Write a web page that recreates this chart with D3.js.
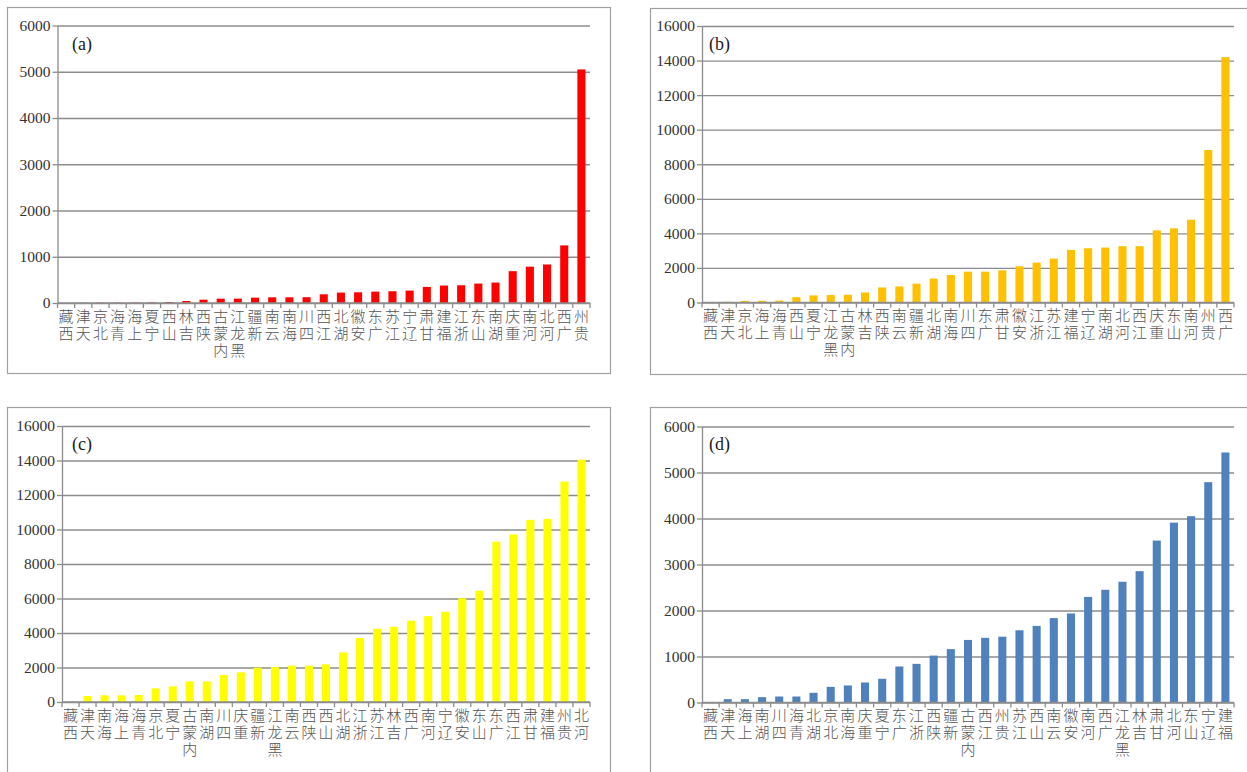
<!DOCTYPE html>
<html>
<head>
<meta charset="utf-8">
<script src="https://cdn.jsdelivr.net/npm/d3@7"></script>
<style>
  body { margin: 0; background: #fff; }
  svg { display: block; }
</style>
</head>
<body>
<svg id="chart" width="1247" height="772"></svg>
<script>
// (a) provinces and values
const categoriesA = ["西藏","天津","北京","青海","上海","宁夏","山西","吉林","陕西","内蒙古","黑龙江","新疆","云南","海南","四川","江西","湖北","安徽","广东","江苏","辽宁","甘肃","福建","浙江","山东","湖南","重庆","河南","河北","广西","贵州"];
const valuesA = [0,3,8,8,8,10,22,43,72,94,94,116,123,123,125,188,225,232,246,254,268,348,377,384,420,442,688,785,833,1246,5050];

// (b)
const categoriesB = ["西藏","天津","北京","上海","青海","山西","宁夏","黑龙江","内蒙古","吉林","陕西","云南","新疆","湖北","海南","四川","广东","甘肃","安徽","浙江","江苏","福建","辽宁","湖南","河北","江西","重庆","山东","河南","贵州","广西"];
const valuesB = [0,40,95,100,110,310,410,430,445,580,870,930,1090,1380,1590,1785,1785,1860,2095,2310,2540,3045,3140,3180,3260,3260,4170,4290,4790,8825,14200];

// (c)
const categoriesC = ["西藏","天津","海南","上海","青海","北京","宁夏","内蒙古","湖南","四川","重庆","新疆","黑龙江","云南","陕西","山西","湖北","浙江","江苏","吉林","广西","河南","辽宁","安徽","山东","广东","江西","甘肃","福建","贵州","河北"];
const valuesC = [0,350,385,385,405,790,905,1195,1195,1565,1720,1990,2025,2105,2105,2180,2875,3705,4245,4360,4710,4980,5230,6020,6450,9300,9710,10560,10620,12780,14050];

// (d)
const categoriesD = ["西藏","天津","上海","湖南","四川","青海","湖北","北京","海南","重庆","宁夏","广东","浙江","陕西","新疆","内蒙古","江西","贵州","江苏","山西","云南","安徽","河南","广西","黑龙江","吉林","甘肃","河北","山东","辽宁","福建"];
const valuesD = [0,72,72,116,130,130,210,340,370,435,515,783,840,1020,1160,1360,1405,1430,1570,1665,1835,1935,2295,2450,2625,2855,3520,3910,4050,4790,5435];

// y-axis tick values
const ticksA = [0,1000,2000,3000,4000,5000,6000];
const ticksB = [0,2000,4000,6000,8000,10000,12000,14000,16000];
const ticksC = [0,2000,4000,6000,8000,10000,12000,14000,16000];
const ticksD = [0,1000,2000,3000,4000,5000,6000];

const panelLabels = ["(a)","(b)","(c)","(d)"];

// layout of the four panels
const panels = [
  { label: panelLabels[0], cats: categoriesA, vals: valuesA, ticks: ticksA, color: "#ff0000",
    frame: [7.5, 7.5, 603, 366], plot: { left: 57.5, right: 590, top: 25.5, bottom: 303 }, tag: [72, 50] },
  { label: panelLabels[1], cats: categoriesB, vals: valuesB, ticks: ticksB, color: "#ffc000",
    frame: [650.5, 8.5, 620, 366], plot: { left: 702, right: 1234, top: 26, bottom: 302.5 }, tag: [709, 50] },
  { label: panelLabels[2], cats: categoriesC, vals: valuesC, ticks: ticksC, color: "#ffff00",
    frame: [7.5, 407.5, 603, 400], plot: { left: 62, right: 590, top: 426, bottom: 702 }, tag: [72, 450] },
  { label: panelLabels[3], cats: categoriesD, vals: valuesD, ticks: ticksD, color: "#4f81bd",
    frame: [650.5, 407.5, 620, 400], plot: { left: 702, right: 1234, top: 426.5, bottom: 702.5 }, tag: [709, 450] }
];

const svg = d3.select("#chart");
const gridColor = "#8c8c8c";
const serif = "'Liberation Serif', 'Times New Roman', serif";
const cjk = "'Noto Sans CJK SC', sans-serif";

panels.forEach(p => {
  const g = svg.append("g");
  const { left, right, top, bottom } = p.plot;

  // outer frame
  g.append("rect")
    .attr("x", p.frame[0]).attr("y", p.frame[1])
    .attr("width", p.frame[2]).attr("height", p.frame[3])
    .attr("fill", "none").attr("stroke", "#a0a0a0").attr("stroke-width", 1.2);

  const x = d3.scaleBand()
    .domain(p.cats)
    .range([left, right])
    .paddingInner(0.53)
    .paddingOuter(0.265);

  const y = d3.scaleLinear()
    .domain([0, d3.max(p.ticks)])
    .range([bottom, top]);

  // horizontal gridlines
  const grid = g.append("g")
    .attr("transform", `translate(${left},0)`)
    .call(d3.axisLeft(y).tickValues(p.ticks).tickSize(-(right - left)).tickFormat(""));
  grid.select(".domain").remove();
  grid.selectAll("line").attr("stroke", gridColor).attr("stroke-width", 1.3);

  // y axis with outward ticks and labels
  const yAxis = g.append("g")
    .attr("transform", `translate(${left},0)`)
    .call(d3.axisLeft(y).tickValues(p.ticks).tickSize(5).tickSizeOuter(0).tickPadding(2).tickFormat(d3.format("d")));
  yAxis.attr("font-family", null).attr("font-size", null);
  yAxis.select(".domain").attr("stroke", gridColor).attr("stroke-width", 1.3);
  yAxis.selectAll("line").attr("stroke", gridColor).attr("stroke-width", 1.3);
  yAxis.selectAll("text")
    .style("font-family", serif)
    .style("font-size", "15.5px")
    .attr("fill", "#333");

  // category boundary ticks below the x axis
  const step = x.step();
  g.append("g").selectAll("line")
    .data(d3.range(p.cats.length + 1))
    .join("line")
    .attr("x1", i => x.range()[0] + i * step)
    .attr("x2", i => x.range()[0] + i * step)
    .attr("y1", bottom)
    .attr("y2", bottom + 5)
    .attr("stroke", gridColor).attr("stroke-width", 1.3);

  // bars
  g.append("g").selectAll("rect")
    .data(p.cats.map((c, i) => ({ c, v: p.vals[i] })))
    .join("rect")
    .attr("x", d => x(d.c))
    .attr("width", x.bandwidth())
    .attr("y", d => y(d.v))
    .attr("height", d => y(0) - y(d.v))
    .attr("fill", p.color);

  // redraw the baseline on top of the bars
  g.append("line")
    .attr("x1", left).attr("x2", right)
    .attr("y1", bottom).attr("y2", bottom)
    .attr("stroke", gridColor).attr("stroke-width", 1.3);

  // category labels: upright characters stacked, reading upward from the bottom
  // (one text run per name, each glyph placed through the x/y position lists)
  const pitch = 17;
  g.append("g").selectAll("text")
    .data(p.cats)
    .join("text")
    .attr("text-anchor", "middle")
    .attr("dominant-baseline", "central")
    .style("font-family", cjk)
    .style("font-size", "15px")
    .style("font-weight", 300)
    .attr("fill", "#555")
    .attr("x", c => {
      const cx = x(c) + x.bandwidth() / 2;
      return Array.from(c).map(() => cx).join(" ");
    })
    .attr("y", c => {
      const n = Array.from(c).length;
      return Array.from(c).map((ch, k) => bottom + 12 + (n - 1 - k) * pitch).join(" ");
    })
    .text(c => c);

  // panel tag
  g.append("text")
    .attr("x", p.tag[0]).attr("y", p.tag[1])
    .style("font-family", serif)
    .style("font-size", "18px")
    .attr("fill", "#222")
    .text(p.label);
});
</script>
</body>
</html>
